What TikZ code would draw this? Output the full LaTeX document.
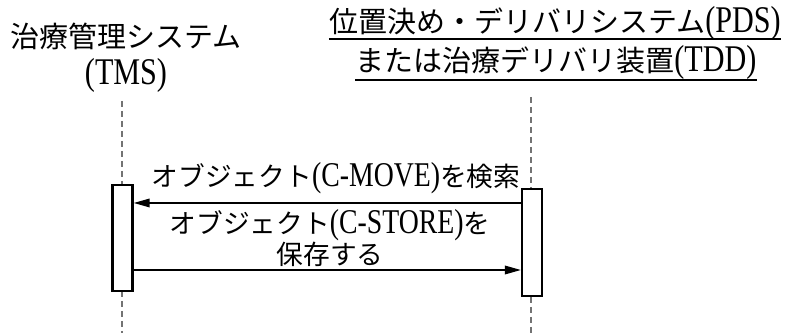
\documentclass[tikz,border=0pt]{standalone}
\usepackage{fontspec}
\setmainfont{Liberation Serif}[Scale=1.3, FakeStretch=0.8]
\newfontfamily\cjk{Noto Sans CJK JP}
\usetikzlibrary{arrows.meta, positioning}

\begin{document}
\begin{tikzpicture}[
    x=0.02cm, y=-0.02cm,
    title/.style={align=center, inner sep=0pt, font=\fontsize{16.5}{21}\selectfont},
    label/.style={align=center, inner sep=0pt, font=\fontsize{15.2}{16}\selectfont},
    lifeline/.style={draw=black!55, line width=1.3pt, dash pattern=on 0.13cm off 0.07cm},
    actbox/.style={draw, rectangle, fill=white, line width=1.3pt, minimum width=0.4cm},
    arrow/.style={-{Triangle[length=0.32cm, width=0.17cm]}, line width=1pt}
]
\useasboundingbox (0,0) rectangle (787,333);

% Titles
\node [title] (tms) at (126,58) {{\cjk 治療管理システム}\\(TMS)};
\node [title] (pds) at (555,23) {{\cjk 位置決め・デリバリシステム}(PDS)};
\node [title] (tdd) at (556,62) {{\cjk または治療デリバリ装置}(TDD)};
\coordinate (ul1) at (0,39);
\coordinate (ul2) at (0,80);
\draw [line width=1.2pt] (pds.west |- ul1) -- (pds.east |- ul1);
\draw [line width=1.2pt] (tdd.west |- ul2) -- (tdd.east |- ul2);

% Lifelines
\coordinate (ltop) at (122,101);
\coordinate (lbot) at (122,333);
\coordinate (rtop) at (531,97);
\coordinate (rbot) at (531,333);
\draw [lifeline] (ltop) -- (lbot);
\draw [lifeline] (rtop) -- (rbot);

% Activation boxes
\node [actbox, minimum height=2.12cm] (tmsbox) at (122.5,238) {};
\node [actbox, minimum height=2.14cm] (pdsbox) at (532,242.5) {};

% Messages
\coordinate (m1) at (0,203);
\coordinate (m2) at (0,270);
\draw [arrow] (pdsbox.west |- m1) -- (tmsbox.east |- m1);
\draw [arrow] (tmsbox.east |- m2) -- (pdsbox.west |- m2);
\node [label] (move) at (336,178) {{\cjk オブジェクト}(C-MOVE){\cjk を検索}};
\node [label] (store) at (330,238) {{\cjk オブジェクト}(C-STORE){\cjk を}\\{\cjk 保存する}};

\end{tikzpicture}
\end{document}
